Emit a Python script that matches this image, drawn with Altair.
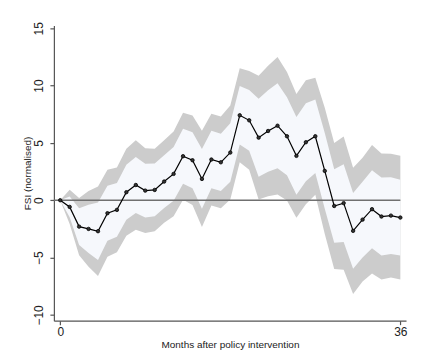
import altair as alt
import pandas as pd

months = list(range(37))
fsi = [0.00, -0.58, -2.30, -2.50, -2.70, -1.13, -0.84, 0.70, 1.33, 0.84, 0.90, 1.63,
       2.30, 3.84, 3.49, 1.86, 3.55, 3.31, 4.16, 7.41, 6.97, 5.46, 6.04, 6.50,
       5.58, 3.87, 5.06, 5.58, 2.56, -0.50, -0.25, -2.67, -1.69, -0.78, -1.42, -1.34, -1.51]
upper_outer = [0.00, 0.92, 0.20, 0.80, 1.20, 2.67, 2.86, 4.50, 5.23, 4.54, 4.50, 5.23,
               6.00, 7.64, 7.39, 6.06, 7.55, 7.31, 8.26, 11.51, 11.27, 10.86, 11.74, 12.50,
               11.18, 9.27, 10.46, 10.68, 8.06, 5.00, 5.55, 2.83, 3.71, 4.82, 4.08, 4.06, 3.89]
upper_inner = [0.00, 0.32, -0.70, -0.40, -0.20, 1.27, 1.51, 3.10, 3.78, 3.19, 3.20, 3.93,
               4.65, 6.24, 5.94, 4.46, 6.05, 5.81, 6.71, 9.96, 9.62, 8.86, 9.59, 10.20,
               8.98, 7.27, 8.46, 8.78, 5.86, 2.70, 3.15, 0.63, 1.61, 2.62, 1.98, 2.01, 1.79]
lower_inner = [0.00, -1.48, -3.90, -4.60, -5.20, -3.53, -3.19, -1.70, -1.12, -1.51, -1.40, -0.67,
               -0.05, 1.44, 1.04, -0.74, 1.05, 0.81, 1.61, 4.86, 4.32, 2.06, 2.49, 2.80,
               2.18, 0.47, 1.66, 2.38, -0.74, -3.70, -3.65, -5.97, -4.99, -4.18, -4.82, -4.69, -4.81]
lower_outer = [0.00, -2.08, -4.80, -5.80, -6.60, -4.93, -4.54, -3.10, -2.57, -2.86, -2.70, -1.97,
               -1.40, 0.04, -0.41, -2.34, -0.45, -0.69, 0.06, 3.31, 2.67, 0.06, 0.34, 0.50,
               -0.02, -1.53, -0.34, 0.48, -2.94, -6.00, -6.05, -8.17, -7.09, -6.38, -6.92, -6.74, -6.91]

x_ticks = [0, 36]
y_ticks = [-10, -5, 0, 5, 10, 15]
zero_line = {"x": [-0.67], "x2": [36], "y": [0]}

df = pd.DataFrame({
    "month": months, "fsi": fsi,
    "uo": upper_outer, "ui": upper_inner, "li": lower_inner, "lo": lower_outer,
})

FONT = "Liberation Sans"
xscale = alt.Scale(domain=[-0.67, 36.6], nice=False, zero=False)
yscale = alt.Scale(domain=[-10.5, 15.25], nice=False, zero=False)

xaxis = alt.Axis(values=x_ticks, title="Months after policy intervention", grid=False,
                 labelFontSize=12, titleFontSize=10, tickSize=4, labelPadding=2,
                 titleX=176.5, titleY=24, titleBaseline="middle", titleAlign="center")
yaxis = alt.Axis(values=y_ticks, title="FSI (normalised)", grid=False,
                 labelFontSize=12, titleFontSize=10, tickSize=4, labelPadding=4,
                 labelAngle=270, labelAlign="center", labelBaseline="bottom",
                 titleAngle=270, titleX=-26, titleY=148, titleAlign="center",
                 titleBaseline="middle")

base = alt.Chart(df)

outer = base.mark_area(color="#cccccc", opacity=1).encode(
    x=alt.X("month:Q", scale=xscale, axis=xaxis),
    y=alt.Y("lo:Q", scale=yscale, axis=yaxis),
    y2="uo:Q",
)
inner = base.mark_area(color="#f6f8fc", opacity=1).encode(
    x=alt.X("month:Q", scale=xscale),
    y=alt.Y("li:Q", scale=yscale),
    y2="ui:Q",
)
zero = alt.Chart(pd.DataFrame(zero_line)).mark_rule(color="#707070", strokeWidth=1.4).encode(
    y=alt.Y("y:Q", scale=yscale),
    x=alt.X("x:Q", scale=xscale),
    x2="x2:Q",
)
line = base.mark_line(color="#000000", strokeWidth=1.2).encode(
    x=alt.X("month:Q", scale=xscale),
    y=alt.Y("fsi:Q", scale=yscale),
)
pts = base.mark_point(filled=True, size=12, color="#333333", stroke="#000000",
                      strokeWidth=0.8, opacity=1).encode(
    x=alt.X("month:Q", scale=xscale),
    y=alt.Y("fsi:Q", scale=yscale),
)

chart = alt.layer(outer, inner, zero, line, pts).properties(
    width=353, height=296,
    autosize=alt.AutoSizeParams(type="none"),
    padding={"left": 46, "top": 17, "right": 10, "bottom": 30},
    background="white",
).configure_view(stroke=None).configure_axis(
    labelFont=FONT, titleFont=FONT, domainColor="#555555", tickColor="#555555",
    labelColor="#222222", titleColor="#222222", domainWidth=1.2, tickWidth=1.2,
    titleFontWeight="normal",
)

chart.save("out.html", embed_options={"renderer": "svg", "actions": False})
